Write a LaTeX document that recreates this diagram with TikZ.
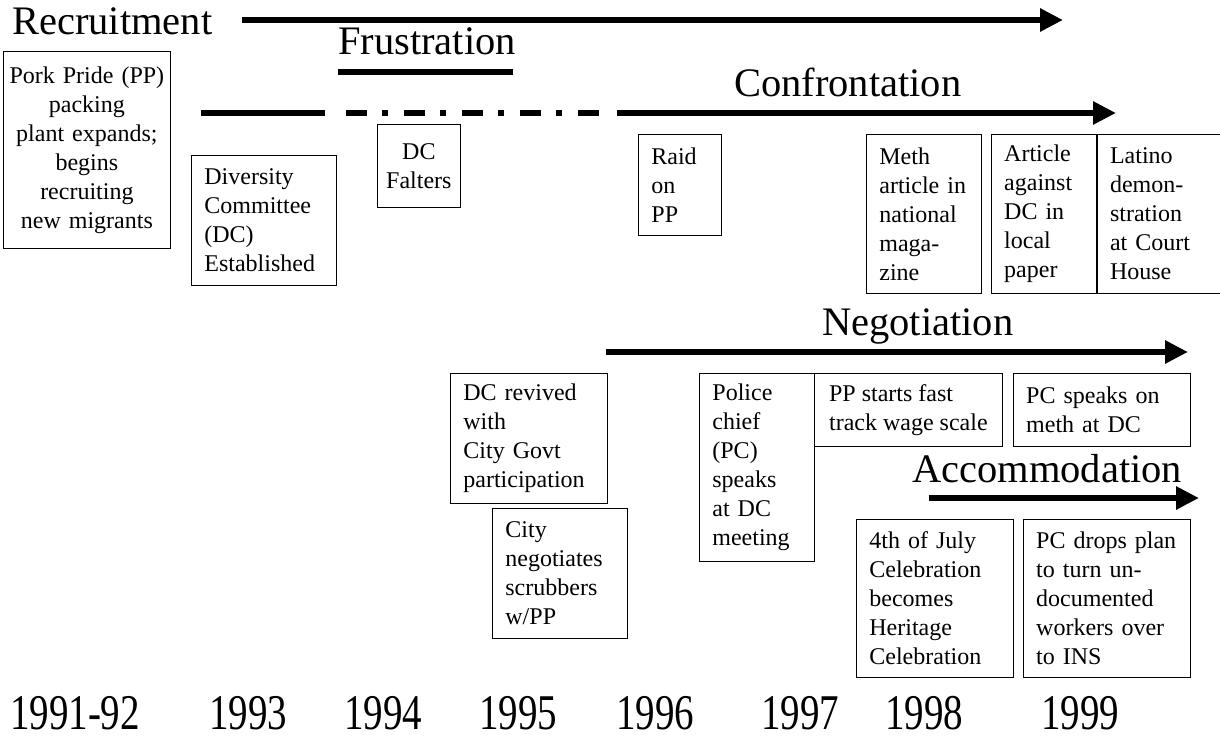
\documentclass[tikz,border=0pt]{standalone}
\usepackage{fontspec}
\setmainfont{Liberation Serif}
\usepackage{graphicx}
\usetikzlibrary{arrows.meta, positioning}

\newcommand{\yrtext}[1]{\scalebox{0.78}[1]{#1}}

\begin{document}
\begin{tikzpicture}[x=1pt, y=-1pt,
  ev/.style = {draw, line width=0.8pt, anchor=north west, inner xsep=13pt, inner ysep=4pt, align=left, font=\fontsize{24}{29}\selectfont},
  phase/.style = {font=\fontsize{40.5}{46}\selectfont, inner sep=0pt, anchor=base west},
  bar/.style = {line width=6pt},
  arr/.style = {line width=6pt, -{Triangle[length=23pt, width=22pt]}},
  year/.style = {font=\fontsize{50}{56}\selectfont, inner sep=0pt, anchor=base}]
  \useasboundingbox (0,0) rectangle (1220,741);
  % phases
  \node[phase] (recruit) at (12,35) {Recruitment};
  \node[phase] (frust) at (338,55) {Frustration};
  \node[phase] (confront) at (734,97) {Confrontation};
  \node[phase] (negot) at (822,335) {Negotiation};
  \node[phase] (accom) at (912,482) {Accommodation};
  \draw[arr] (242,20) -- (1063,20);
  \draw[bar] (338,72) -- (513,72);
  \draw[bar] (201,113) -- (325,113);
  \draw[bar, dash pattern=on 21pt off 15pt on 6pt off 16pt] (346,113) -- (599,113);
  \draw[arr] (617,113) -- (1116,113);
  \draw[arr] (606,352) -- (1188,352);
  \draw[arr] (929,498) -- (1199,498);
  % events
  \node[ev, align=center, inner xsep=6pt, text width=155pt, minimum height=197pt] (pork) at (3,51) {Pork Pride (PP)\\ packing\\ plant expands;\\ begins\\ recruiting\\ new migrants};
  \node[ev, text width=119pt, minimum height=130pt] (dcest) at (191,155) {Diversity\\ Committee\\ (DC)\\ Established};
  \node[ev, align=center, inner xsep=6pt, text width=71pt, minimum height=83pt] (falter) at (377,124) {DC\\ Falters};
  \node[ev, text width=57pt, minimum height=101pt] (raid) at (638,134) {Raid\\ on\\ PP};
  \node[ev, text width=89pt, minimum height=159pt] (meth) at (866,134) {Meth\\ article in\\ national\\ maga-\\ zine};
  \node[ev, text width=79pt, minimum height=159pt] (article) [right=9pt of meth] {Article\\ against\\ DC in\\ local\\ paper};
  \node[ev, text width=98pt, minimum height=159pt] (latino) [right=0pt of article] {Latino\\ demon-\\ stration\\ at Court\\ House};
  \node[ev, text width=131pt, minimum height=130pt] (revived) at (450,373) {DC revived\\ with\\ City Govt\\ participation};
  \node[ev, text width=109pt, minimum height=130pt] (scrub) at (492,508) {City\\ negotiates\\ scrubbers\\ w/PP};
  \node[ev, text width=89pt, minimum height=188pt] (police) at (699,373) {Police\\ chief\\ (PC)\\ speaks\\ at DC\\ meeting};
  \node[ev, inner xsep=8pt, minimum width=188pt, minimum height=73pt] (ppfast) at (814,373) {PP starts fast\\ track wage scale};
  \node[ev, text width=151pt, minimum height=73pt] (pcmeth) [right=10pt of ppfast] {PC speaks on\\ meth at DC};
  \node[ev, text width=131pt, minimum height=158pt] (july) at (856,519) {4th of July\\ Celebration\\ becomes\\ Heritage\\ Celebration};
  \node[ev, text width=141pt, minimum height=158pt] (drops) [right=9pt of july] {PC drops plan\\ to turn un-\\ documented\\ workers over\\ to INS};
  % years
  \node[year] (y91) at (75,729) {\yrtext{1991-92}};
  \node[year] (y93) at (248,729) {\yrtext{1993}};
  \node[year] (y94) at (383,729) {\yrtext{1994}};
  \node[year] (y95) at (518,729) {\yrtext{1995}};
  \node[year] (y96) at (655,729) {\yrtext{1996}};
  \node[year] (y97) at (800,729) {\yrtext{1997}};
  \node[year] (y98) at (924,729) {\yrtext{1998}};
  \node[year] (y99) at (1080,729) {\yrtext{1999}};
\end{tikzpicture}
\end{document}
